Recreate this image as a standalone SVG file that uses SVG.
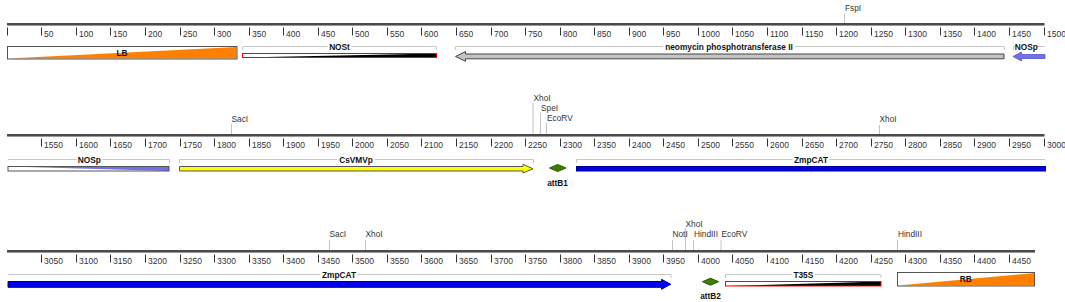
<svg xmlns="http://www.w3.org/2000/svg" width="1065" height="302" viewBox="0 0 1065 302">
<style>
.bg{fill:#fff}
.rd{fill:#4a4a4a}
.rl{stroke:#9a9a9a;stroke-width:1;fill:none}
.tk{stroke:#333;stroke-width:1;fill:none}
.tl{font-family:"Liberation Sans",Arial,sans-serif;font-size:8.5px;fill:#333}
.br{stroke:#c8c8c8;stroke-width:1;fill:none}
.fl{font-family:"Liberation Sans",Arial,sans-serif;font-size:8.3px;font-weight:bold;fill:#111;text-anchor:middle}
.sl{stroke:#c4c4c4;stroke-width:1;fill:none}
.st{font-family:"Liberation Sans",Arial,sans-serif;font-size:8.3px;fill:#333}
.box{fill:none;stroke:#555;stroke-width:1}
.org{fill:#ff8000}
.red{fill:none;stroke:#f00;stroke-width:1}
.blk{fill:#000}
.grey{fill:#c4c4c4;stroke:#444;stroke-width:1}
.lav{fill:#6f6ff0;stroke:#5555c8;stroke-width:0.8}
.yel{fill:#ffff00;stroke:#555;stroke-width:1}
.blu{fill:#0000ee;stroke:#000090;stroke-width:1}
.grn{fill:#3f7f00;stroke:#2a5500;stroke-width:1}
</style>
<rect class="bg" x="0" y="0" width="1065" height="302"/>

<!-- Rulers -->
<g id="ruler1">
<rect class="rd" x="7" y="23" width="1037.5" height="2"/>
<line class="rl" x1="7" y1="25.5" x2="1044.5" y2="25.5"/>
<path class="tk" d="M7.5 27.5V35.5M41.5 27.5V35.5M76.5 27.5V35.5M110.5 27.5V35.5M145.5 27.5V35.5M180.5 27.5V35.5M214.5 27.5V35.5M249.5 27.5V35.5M283.5 27.5V35.5M318.5 27.5V35.5M352.5 27.5V35.5M387.5 27.5V35.5M421.5 27.5V35.5M456.5 27.5V35.5M491.5 27.5V35.5M525.5 27.5V35.5M560.5 27.5V35.5M594.5 27.5V35.5M629.5 27.5V35.5M663.5 27.5V35.5M698.5 27.5V35.5M732.5 27.5V35.5M767.5 27.5V35.5M802.5 27.5V35.5M836.5 27.5V35.5M871.5 27.5V35.5M905.5 27.5V35.5M940.5 27.5V35.5M974.5 27.5V35.5M1009.5 27.5V35.5M1044.5 27.5V35.5"/>
<g class="tl">
<text x="44" y="36.5">50</text><text x="79" y="36.5">100</text><text x="113" y="36.5">150</text><text x="148" y="36.5">200</text><text x="183" y="36.5">250</text><text x="217" y="36.5">300</text><text x="252" y="36.5">350</text><text x="286" y="36.5">400</text><text x="321" y="36.5">450</text><text x="355" y="36.5">500</text><text x="390" y="36.5">550</text><text x="424" y="36.5">600</text><text x="459" y="36.5">650</text><text x="494" y="36.5">700</text><text x="528" y="36.5">750</text><text x="563" y="36.5">800</text><text x="597" y="36.5">850</text><text x="632" y="36.5">900</text><text x="666" y="36.5">950</text><text x="701" y="36.5">1000</text><text x="735" y="36.5">1050</text><text x="770" y="36.5">1100</text><text x="805" y="36.5">1150</text><text x="839" y="36.5">1200</text><text x="874" y="36.5">1250</text><text x="908" y="36.5">1300</text><text x="943" y="36.5">1350</text><text x="977" y="36.5">1400</text><text x="1012" y="36.5">1450</text><text x="1047" y="36.5">1500</text>
</g>
</g>

<g id="ruler2">
<rect class="rd" x="7" y="134" width="1037.5" height="2"/>
<line class="rl" x1="7" y1="136.5" x2="1044.5" y2="136.5"/>
<path class="tk" d="M41.5 138.5V146.5M76.5 138.5V146.5M110.5 138.5V146.5M145.5 138.5V146.5M180.5 138.5V146.5M214.5 138.5V146.5M249.5 138.5V146.5M283.5 138.5V146.5M318.5 138.5V146.5M352.5 138.5V146.5M387.5 138.5V146.5M421.5 138.5V146.5M456.5 138.5V146.5M491.5 138.5V146.5M525.5 138.5V146.5M560.5 138.5V146.5M594.5 138.5V146.5M629.5 138.5V146.5M663.5 138.5V146.5M698.5 138.5V146.5M732.5 138.5V146.5M767.5 138.5V146.5M802.5 138.5V146.5M836.5 138.5V146.5M871.5 138.5V146.5M905.5 138.5V146.5M940.5 138.5V146.5M974.5 138.5V146.5M1009.5 138.5V146.5M1044.5 138.5V146.5"/>
<g class="tl">
<text x="44" y="147.5">1550</text><text x="79" y="147.5">1600</text><text x="113" y="147.5">1650</text><text x="148" y="147.5">1700</text><text x="183" y="147.5">1750</text><text x="217" y="147.5">1800</text><text x="252" y="147.5">1850</text><text x="286" y="147.5">1900</text><text x="321" y="147.5">1950</text><text x="355" y="147.5">2000</text><text x="390" y="147.5">2050</text><text x="424" y="147.5">2100</text><text x="459" y="147.5">2150</text><text x="494" y="147.5">2200</text><text x="528" y="147.5">2250</text><text x="563" y="147.5">2300</text><text x="597" y="147.5">2350</text><text x="632" y="147.5">2400</text><text x="666" y="147.5">2450</text><text x="701" y="147.5">2500</text><text x="735" y="147.5">2550</text><text x="770" y="147.5">2600</text><text x="805" y="147.5">2650</text><text x="839" y="147.5">2700</text><text x="874" y="147.5">2750</text><text x="908" y="147.5">2800</text><text x="943" y="147.5">2850</text><text x="977" y="147.5">2900</text><text x="1012" y="147.5">2950</text><text x="1047" y="147.5">3000</text>
</g>
</g>

<g id="ruler3">
<rect class="rd" x="7" y="250" width="1028" height="2"/>
<line class="rl" x1="7" y1="252.5" x2="1035" y2="252.5"/>
<path class="tk" d="M41.5 254.5V262.5M76.5 254.5V262.5M110.5 254.5V262.5M145.5 254.5V262.5M180.5 254.5V262.5M214.5 254.5V262.5M249.5 254.5V262.5M283.5 254.5V262.5M318.5 254.5V262.5M352.5 254.5V262.5M387.5 254.5V262.5M421.5 254.5V262.5M456.5 254.5V262.5M491.5 254.5V262.5M525.5 254.5V262.5M560.5 254.5V262.5M594.5 254.5V262.5M629.5 254.5V262.5M663.5 254.5V262.5M698.5 254.5V262.5M732.5 254.5V262.5M767.5 254.5V262.5M802.5 254.5V262.5M836.5 254.5V262.5M871.5 254.5V262.5M905.5 254.5V262.5M940.5 254.5V262.5M974.5 254.5V262.5M1009.5 254.5V262.5"/>
<g class="tl">
<text x="44" y="263.5">3050</text><text x="79" y="263.5">3100</text><text x="113" y="263.5">3150</text><text x="148" y="263.5">3200</text><text x="183" y="263.5">3250</text><text x="217" y="263.5">3300</text><text x="252" y="263.5">3350</text><text x="286" y="263.5">3400</text><text x="321" y="263.5">3450</text><text x="355" y="263.5">3500</text><text x="390" y="263.5">3550</text><text x="424" y="263.5">3600</text><text x="459" y="263.5">3650</text><text x="494" y="263.5">3700</text><text x="528" y="263.5">3750</text><text x="563" y="263.5">3800</text><text x="597" y="263.5">3850</text><text x="632" y="263.5">3900</text><text x="666" y="263.5">3950</text><text x="701" y="263.5">4000</text><text x="735" y="263.5">4050</text><text x="770" y="263.5">4100</text><text x="805" y="263.5">4150</text><text x="839" y="263.5">4200</text><text x="874" y="263.5">4250</text><text x="908" y="263.5">4300</text><text x="943" y="263.5">4350</text><text x="977" y="263.5">4400</text><text x="1012" y="263.5">4450</text>
</g>
</g>

<!-- Restriction site leader lines -->
<g id="connectors">
<path class="sl" d="M844.5 14V23M231.5 124V134M533 103V134M540.5 113V134M546.5 123V134M879.5 125V134M329.5 240V250M365.5 240V250M672.5 240V250M685.5 228V250M693.5 240V250M721 240V250M897.5 240V250"/>
</g>

<!-- Restriction site labels -->
<g id="site-FspI"><text class="st" x="845" y="11">FspI</text></g>
<g id="site-SacI-1"><text class="st" x="231.5" y="122">SacI</text></g>
<g id="site-XhoI-1"><text class="st" x="533.5" y="101">XhoI</text></g>
<g id="site-SpeI"><text class="st" x="541" y="110.5">SpeI</text></g>
<g id="site-EcoRV-1"><text class="st" x="547" y="121">EcoRV</text></g>
<g id="site-XhoI-2"><text class="st" x="879.5" y="122">XhoI</text></g>
<g id="site-SacI-2"><text class="st" x="329.5" y="237">SacI</text></g>
<g id="site-XhoI-3"><text class="st" x="365.5" y="237">XhoI</text></g>
<g id="site-NotI"><text class="st" x="672.5" y="237">NotI</text></g>
<g id="site-XhoI-4"><text class="st" x="685.5" y="226.5">XhoI</text></g>
<g id="site-HindIII-1"><text class="st" x="694" y="237">HindIII</text></g>
<g id="site-EcoRV-2"><text class="st" x="721.5" y="237">EcoRV</text></g>
<g id="site-HindIII-2"><text class="st" x="898" y="237">HindIII</text></g>

<!-- Row 1 features -->
<g id="LB">
<rect x="7.5" y="46.5" width="229.5" height="12.5" fill="#fff"/>
<polygon class="org" points="8,58.5 236.5,47 236.5,58.5"/>
<rect class="box" x="7.5" y="46.5" width="229.5" height="12.5"/>
<text class="fl" x="122" y="55.5">LB</text>
</g>

<g id="NOSt">
<path class="br" d="M242.5 50V46.5H327.5M351.5 46.5H436.5V50"/>
<text class="fl" x="339.5" y="49.8">NOSt</text>
<rect x="242.5" y="53.5" width="194" height="4" fill="#fff"/>
<polygon class="blk" points="243,57.5 436.5,53.5 436.5,57.5"/>
<rect class="red" x="242.5" y="53.5" width="194" height="4"/>
</g>

<g id="nptII">
<path class="br" d="M455.5 50V46.5H663M795 46.5H1004.5V50"/>
<text class="fl" x="729" y="49.8">neomycin phosphotransferase II</text>
<polygon class="grey" points="455.5,56.5 465.5,51.5 465.5,54 1004,54 1004,58.8 465.5,58.8 465.5,61.3"/>
</g>

<g id="NOSp-1">
<path class="br" d="M1013.5 50V46.5H1015.5M1037 46.5H1045"/>
<text class="fl" x="1026.3" y="49.8">NOSp</text>
<polygon class="lav" points="1013,56.5 1021.5,52 1021.5,54.5 1045,54.5 1045,58.5 1021.5,58.5 1021.5,61"/>
</g>

<!-- Row 2 features -->
<g id="NOSp-2">
<path class="br" d="M8 159.5H76.5M102 159.5H169.5V163"/>
<text class="fl" x="89.3" y="162.5">NOSp</text>
<rect x="8" y="166.5" width="161" height="4.5" fill="#fff"/>
<polygon fill="#6f6ff0" points="8,166.5 169,166.5 169,171"/>
<rect class="box" x="8" y="166.5" width="161" height="4.5" stroke="#666"/>
</g>

<g id="CsVMVp">
<path class="br" d="M179.5 163V159.5H337.5M374.5 159.5H533.5V163"/>
<text class="fl" x="356" y="162.5">CsVMVp</text>
<polygon class="yel" points="179.5,166.5 523,166.5 523,164.3 533,168.8 523,173 523,171 179.5,171"/>
</g>

<g id="attB1">
<polygon class="grn" points="549.5,168 557.7,164.5 566,168 557.7,171.5"/>
<text class="fl" x="557.5" y="186">attB1</text>
</g>

<g id="ZmpCAT-1">
<path class="br" d="M576.5 163V159.5H792.5M829.5 159.5H1045"/>
<text class="fl" x="811" y="162.5">ZmpCAT</text>
<rect class="blu" x="576.5" y="166.5" width="469" height="4.5"/>
</g>

<!-- Row 3 features -->
<g id="ZmpCAT-2">
<path class="br" d="M8 274.5H320.5M357.5 274.5H671V278"/>
<text class="fl" x="339" y="277.5">ZmpCAT</text>
<polygon class="blu" points="8,281.5 661.5,281.5 661.5,279.3 670.7,284.3 661.5,289.3 661.5,287.3 8,287.3"/>
</g>

<g id="attB2">
<polygon class="grn" points="702.5,281.7 710.5,278.2 718.5,281.7 710.5,285.2"/>
<text class="fl" x="710.5" y="299">attB2</text>
</g>

<g id="T35S">
<path class="br" d="M725.5 278V274.5H792M815 274.5H881V278"/>
<text class="fl" x="803.3" y="277.5">T35S</text>
<rect x="725.5" y="281.5" width="155.5" height="4.5" fill="#fff"/>
<polygon class="blk" points="726,286 881,281.5 881,286"/>
<rect class="red" x="725.5" y="281.5" width="155.5" height="4.5"/>
</g>

<g id="RB">
<rect x="897.5" y="272.5" width="137" height="13.5" fill="#fff"/>
<polygon class="org" points="898,285.5 1034.5,273 1034.5,285.5"/>
<rect class="box" x="897.5" y="272.5" width="137" height="13.5"/>
<text class="fl" x="965.7" y="281.7">RB</text>
</g>
</svg>
